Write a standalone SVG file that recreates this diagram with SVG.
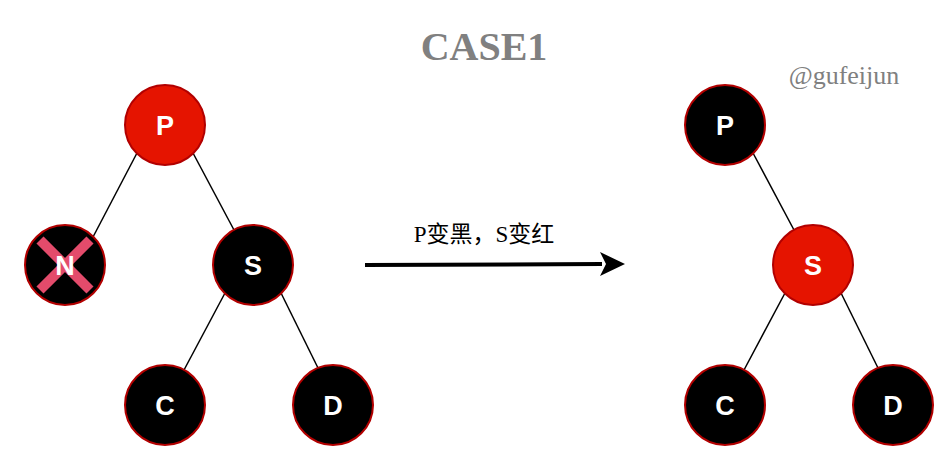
<svg xmlns="http://www.w3.org/2000/svg" width="950" height="450" viewBox="0 0 950 450">
<defs>
<style>
.red{fill:#e51400;stroke:#b20000;stroke-width:2}
.blk{fill:#000;stroke:#b20000;stroke-width:2}
.lbl{fill:#fff;font-family:"Liberation Sans",Arial,sans-serif;font-weight:bold;font-size:27px;text-anchor:middle;dominant-baseline:central}
.edge{stroke:#000;stroke-width:1.5;fill:none}
.cross{stroke:#e34b6b;stroke-width:10;stroke-linecap:butt}
</style>
</defs>
<rect width="950" height="450" fill="#fff"/>
<text x="484" y="60" font-family="'Liberation Serif','Times New Roman',serif" font-weight="bold" font-size="40" fill="#808080" text-anchor="middle">CASE1</text>
<text x="844" y="84" font-family="'Liberation Serif','Times New Roman',serif" font-size="26" fill="#808080" text-anchor="middle">@gufeijun</text>
<g id="connectors">
<line class="edge" x1="137" y1="153" x2="93" y2="237"/>
<line class="edge" x1="193" y1="153" x2="234" y2="230"/>
<line class="edge" x1="225" y1="293" x2="184" y2="370"/>
<line class="edge" x1="281" y1="293" x2="319" y2="370"/>
<line class="edge" x1="753" y1="153" x2="794" y2="230"/>
<line class="edge" x1="785" y1="293" x2="744" y2="370"/>
<line class="edge" x1="841" y1="293" x2="879" y2="370"/>
<line x1="365" y1="265" x2="602" y2="264" stroke="#000" stroke-width="4"/>
<path d="M600,252 L625,264 L600,276 L606,264 Z" fill="#000"/>
</g>
<text x="484" y="242" font-family="'Liberation Serif','Noto Sans CJK SC',serif" font-size="23" fill="#000" text-anchor="middle">P变黑，S变红</text>
<g id="L-P"><circle class="red" cx="165" cy="125" r="40"/><text class="lbl" x="165" y="126">P</text></g>
<g id="L-N"><circle class="blk" cx="65" cy="265" r="40"/>
<line class="cross" x1="40" y1="240" x2="90" y2="290"/><line class="cross" x1="90" y1="240" x2="40" y2="290"/>
<text class="lbl" x="65" y="266">N</text></g>
<g id="L-S"><circle class="blk" cx="253" cy="265" r="40"/><text class="lbl" x="253" y="266">S</text></g>
<g id="L-C"><circle class="blk" cx="165" cy="405" r="40"/><text class="lbl" x="165" y="406">C</text></g>
<g id="L-D"><circle class="blk" cx="333" cy="405" r="40"/><text class="lbl" x="333" y="406">D</text></g>
<g id="R-P"><circle class="blk" cx="725" cy="125" r="40"/><text class="lbl" x="725" y="126">P</text></g>
<g id="R-S"><circle class="red" cx="813" cy="265" r="40"/><text class="lbl" x="813" y="266">S</text></g>
<g id="R-C"><circle class="blk" cx="725" cy="405" r="40"/><text class="lbl" x="725" y="406">C</text></g>
<g id="R-D"><circle class="blk" cx="893" cy="405" r="40"/><text class="lbl" x="893" y="406">D</text></g>
</svg>
